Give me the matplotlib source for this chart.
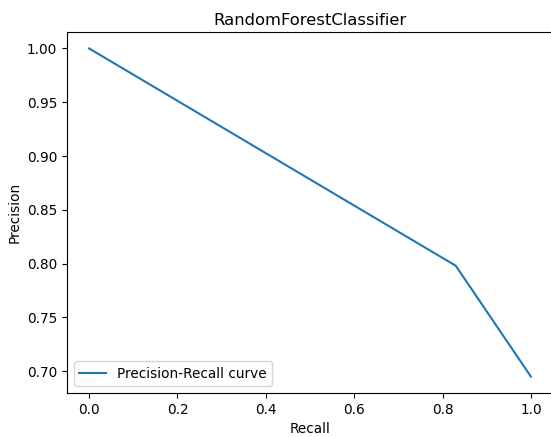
import matplotlib
matplotlib.use('Agg')
import matplotlib.pyplot as plt

recall = [0.0, 0.83, 1.0]
precision = [1.0, 0.798, 0.695]

fig = plt.figure(figsize=(5.51, 4.37), dpi=100)
ax = fig.add_axes([0.1216, 0.1007, 0.882, 0.826])
ax.plot(recall, precision, label='Precision-Recall curve')
ax.set_title('RandomForestClassifier', fontsize=11.8, pad=5)
ax.set_xlabel('Recall', fontsize=9.8)
ax.set_ylabel('Precision', fontsize=9.8)
ax.tick_params(labelsize=9.8)
ax.legend(loc='lower left', fontsize=9.8)
fig.savefig('out.png', dpi=100)
